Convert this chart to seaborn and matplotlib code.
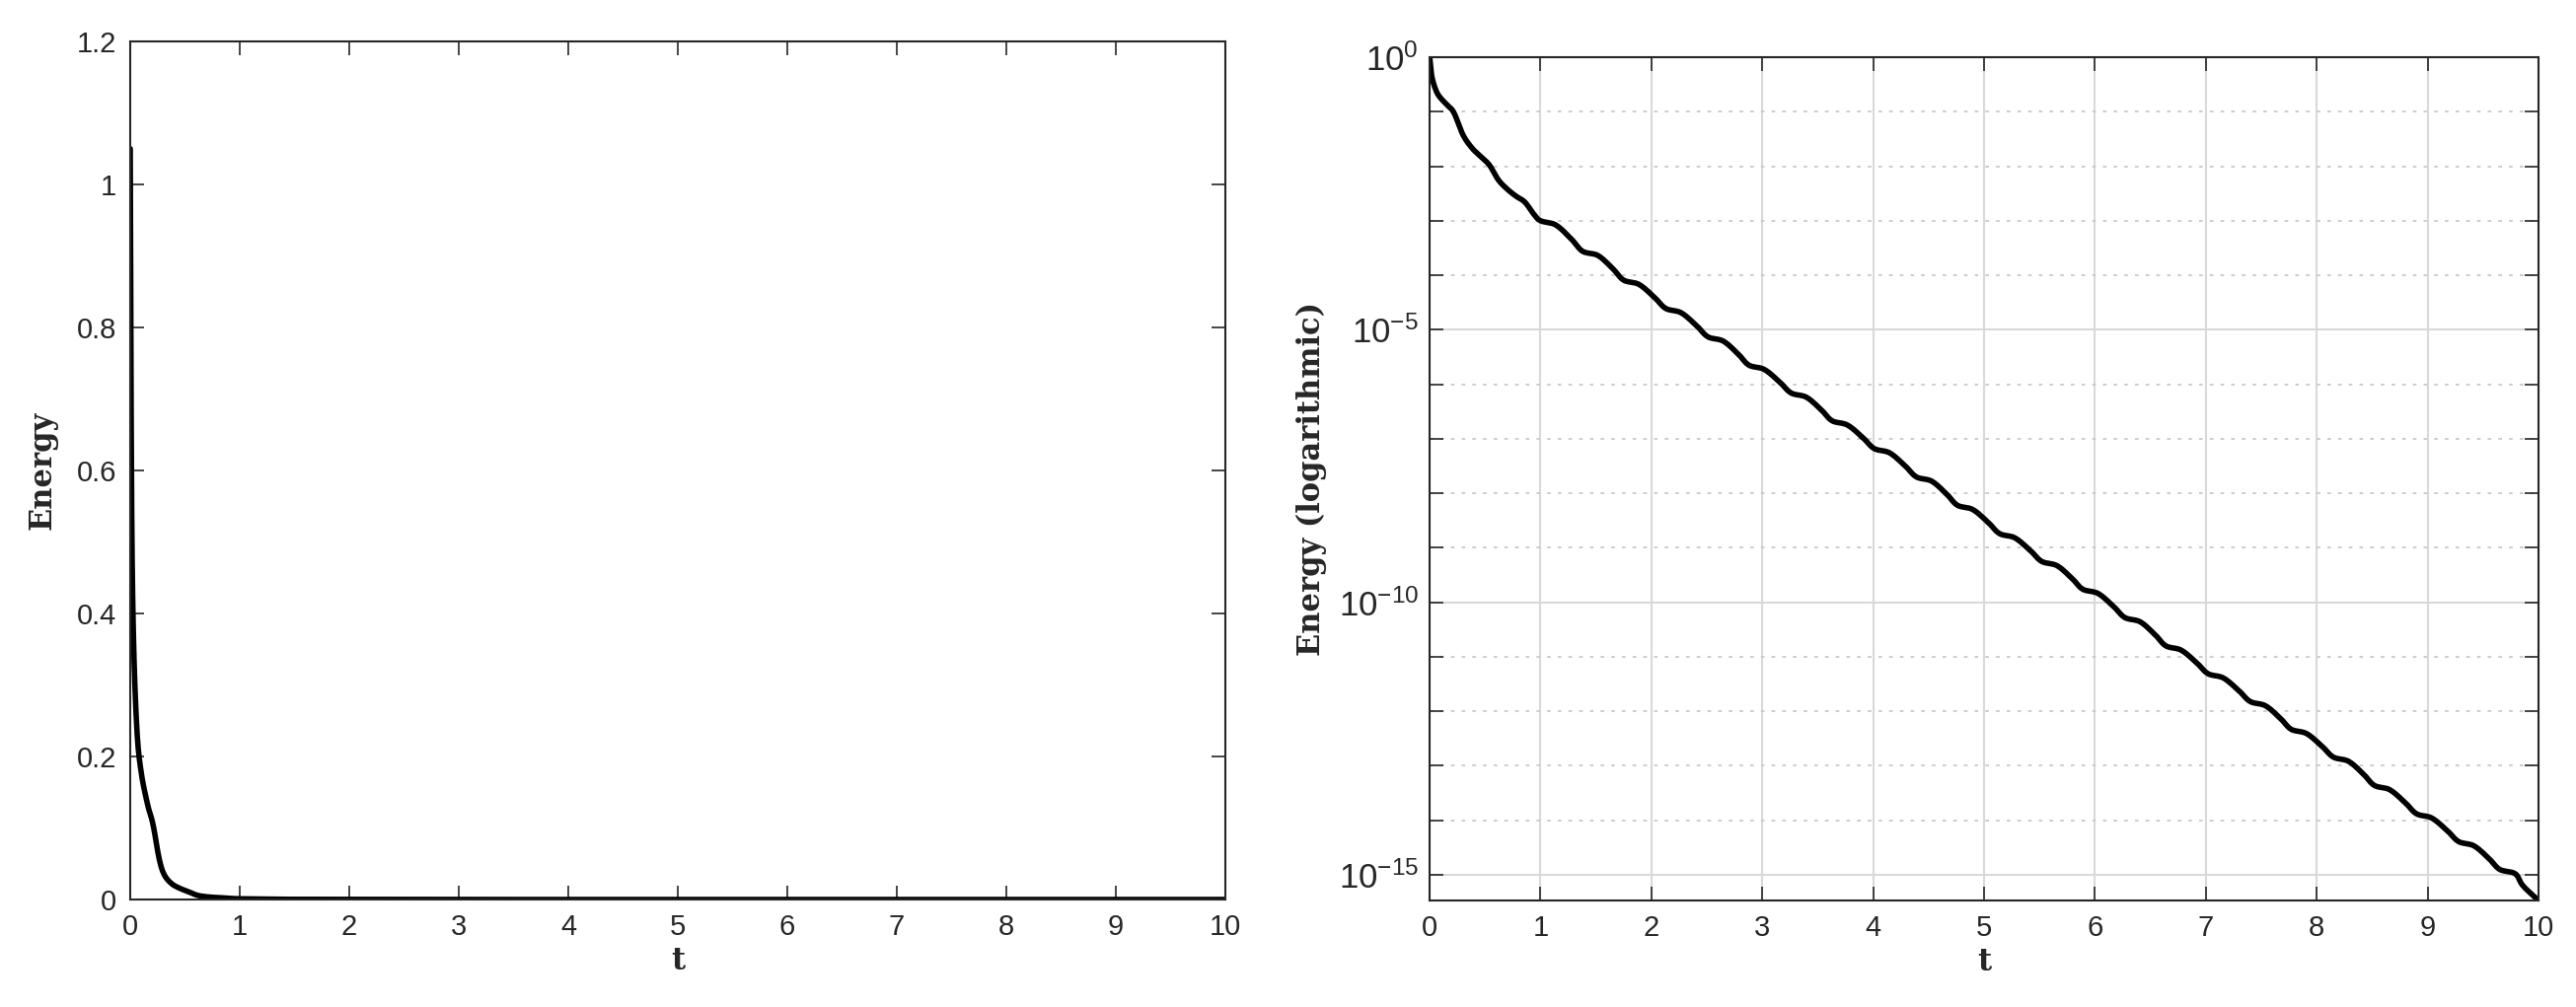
import numpy as np
import pandas as pd
import matplotlib
matplotlib.use("Agg")
import matplotlib.pyplot as plt
import seaborn as sns
from matplotlib.ticker import FixedLocator, FuncFormatter, NullFormatter

# read-off points (t, log10 Energy): early transient then plateaus of the staircase
early_t = [0.0, 0.02, 0.06, 0.10, 0.16, 0.22, 0.30, 0.38, 0.46, 0.54, 0.62, 0.70, 0.78, 0.86, 0.94]
early_log = [0.02, -0.35, -0.62, -0.75, -0.88, -1.02, -1.42, -1.66, -1.82, -1.98, -2.25, -2.42, -2.55, -2.66, -2.88]
plateau_t = [1.07, 1.45, 1.82, 2.20, 2.58, 2.95, 3.33, 3.70, 4.08, 4.46, 4.83, 5.21, 5.59, 5.96,
             6.34, 6.71, 7.09, 7.47, 7.84, 8.22, 8.59, 8.97, 9.35, 9.72]
plateau_log = [-3.04, -3.60, -4.13, -4.65, -5.17, -5.69, -6.20, -6.71, -7.22, -7.74, -8.26, -8.78, -9.29, -9.80,
               -10.32, -10.84, -11.35, -11.86, -12.37, -12.88, -13.40, -13.92, -14.43, -14.94]
end_t = [10.0]
end_log = [-15.47]

pts_t = list(early_t)
pts_l = list(early_log)
for i, (tc, lv) in enumerate(zip(plateau_t, plateau_log)):
    pts_t += [tc - 0.07, tc + 0.07]
    pts_l += [lv + 0.04, lv - 0.04]
    if i + 1 < len(plateau_t):
        pts_t.append(0.5 * (tc + plateau_t[i + 1]) + 0.02)
        pts_l.append(0.5 * (lv + plateau_log[i + 1]) - 0.02)
pts_t += [9.86] + end_t
pts_l += [-15.2] + end_log
pts_t = np.array(pts_t); pts_l = np.array(pts_l)

def catmull(x, y, n=12):
    X = np.concatenate([[2*x[0]-x[1]], x, [2*x[-1]-x[-2]]])
    Y = np.concatenate([[2*y[0]-y[1]], y, [2*y[-1]-y[-2]]])
    ox, oy = [], []
    for i in range(1, len(X) - 2):
        s = np.linspace(0, 1, n, endpoint=False)
        for arr, out in ((X, ox), (Y, oy)):
            p0, p1, p2, p3 = arr[i-1], arr[i], arr[i+1], arr[i+2]
            out.extend(0.5*((2*p1) + (-p0+p2)*s + (2*p0-5*p1+4*p2-p3)*s**2 + (-p0+3*p1-3*p2+p3)*s**3))
    ox.append(x[-1]); oy.append(y[-1])
    return np.array(ox), np.array(oy)

tt, ll = catmull(pts_t, pts_l)
df = pd.DataFrame({"t": tt, "E": 10.0**ll})
df.loc[0, "E"] = 1.05

sns.set_theme(style="white")
plt.rcParams['font.family'] = ['Liberation Sans', 'DejaVu Sans']
plt.rcParams['mathtext.fontset'] = 'custom'
plt.rcParams['mathtext.rm'] = 'Liberation Sans'
plt.rcParams['mathtext.it'] = 'Liberation Sans'
plt.rcParams['axes.unicode_minus'] = False
fig = plt.figure(figsize=(26.11, 10.21), dpi=100)
ax1 = fig.add_axes([132/2611, 1-912/1021, (1242-132)/2611, (912-42)/1021])
ax2 = fig.add_axes([1449/2611, 1-913/1021, (2573-1449)/2611, (913-58)/1021])

for ax in (ax1, ax2):
    sns.lineplot(data=df, x="t", y="E", ax=ax, color="black", lw=4, sort=False)
    ax.set_xlim(0, 10)
    ax.set_xticks(range(0, 11))
    ax.tick_params(direction="in", length=10, width=1.2, labelsize=21, top=True, right=True,
                   bottom=True, left=True, colors="#262626", labelcolor="#262626", pad=10)
    for s in ax.spines.values():
        s.set_color("#262626"); s.set_linewidth(1.5)
    ax.set_xlabel("t", family="DejaVu Serif", fontsize=22, fontweight="bold", labelpad=4)

ax1.set_ylim(0, 1.2)
ax1.set_yticks(np.arange(0, 1.21, 0.2))
ax1.yaxis.set_major_formatter(FuncFormatter(lambda v, p: f"{v:g}"))
ax1.set_ylabel("Energy", family="DejaVu Serif", fontsize=22, fontweight="bold", labelpad=14)

ax2.set_yscale("log")
ax2.set_ylim(10**-15.47, 1)
ax2.yaxis.set_major_locator(FixedLocator([1e0, 1e-5, 1e-10, 1e-15]))
ax2.yaxis.set_minor_locator(FixedLocator([10.0**-k for k in range(16) if k % 5]))
ax2.yaxis.set_major_formatter(FuncFormatter(lambda v, p: "$10^{\\mathrm{%s}}$" % str(int(round(np.log10(v))))))
ax2.yaxis.set_minor_formatter(NullFormatter())
ax2.tick_params(axis="y", which="major", labelsize=25, pad=8)
ax2.tick_params(axis="y", which="minor", direction="in", length=10, width=1.2, left=True, right=True)
ax2.grid(True, which="major", color="#d9d9d9", lw=1.5)
ax2.grid(True, which="minor", axis="y", color="#c8c8c8", lw=1.3, ls=(0, (2, 4)))
ax2.set_axisbelow(True)
ax2.set_ylabel("Energy (logarithmic)", family="DejaVu Serif", fontsize=22, fontweight="bold", labelpad=8)

fig.savefig("out.png", dpi=100)
